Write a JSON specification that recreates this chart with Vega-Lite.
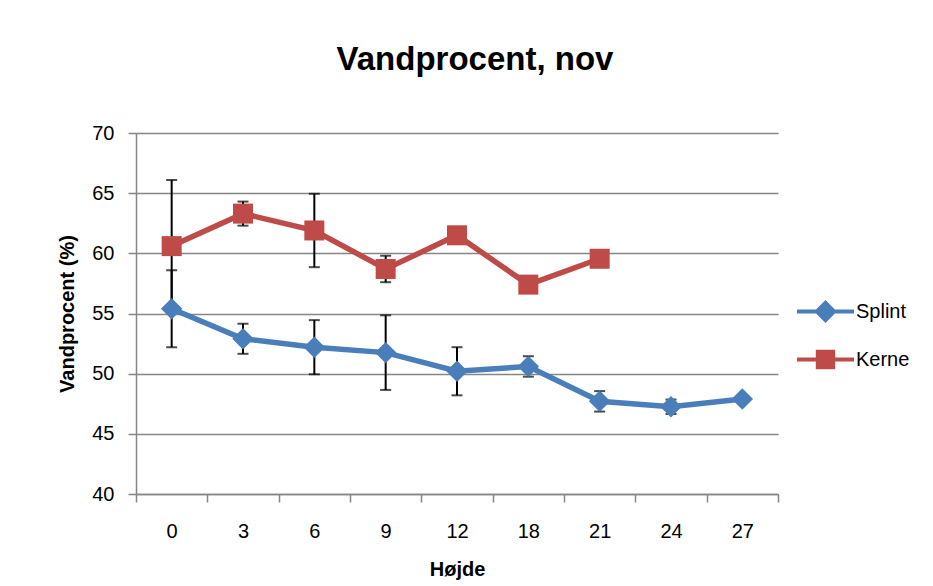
{
  "$schema": "https://vega.github.io/schema/vega-lite/v6.json",
  "autosize": {"type": "none"},
  "width": 642,
  "height": 361,
  "padding": {"left": 136, "top": 133, "right": 155, "bottom": 92},
  "background": "white",
  "config": {
    "font": "Liberation Sans",
    "view": {"stroke": null}
  },
  "title": {
    "text": "Vandprocent, nov",
    "font": "Liberation Sans",
    "fontSize": 33,
    "fontWeight": "bold",
    "color": "black",
    "anchor": "middle",
    "dx": 18,
    "offset": 46
  },
  "data": {
    "values": [
      {"h": "0", "serie": "Splint", "v": 55.4, "lo": 52.2, "hi": 58.6},
      {"h": "3", "serie": "Splint", "v": 52.9, "lo": 51.65, "hi": 54.15},
      {"h": "6", "serie": "Splint", "v": 52.2, "lo": 49.95, "hi": 54.45},
      {"h": "9", "serie": "Splint", "v": 51.75, "lo": 48.65, "hi": 54.85},
      {"h": "12", "serie": "Splint", "v": 50.2, "lo": 48.2, "hi": 52.2},
      {"h": "18", "serie": "Splint", "v": 50.6, "lo": 49.75, "hi": 51.45},
      {"h": "21", "serie": "Splint", "v": 47.7, "lo": 46.85, "hi": 48.55},
      {"h": "24", "serie": "Splint", "v": 47.25, "lo": 46.65, "hi": 47.85},
      {"h": "27", "serie": "Splint", "v": 47.9, "lo": null, "hi": null},
      {"h": "0", "serie": "Kerne", "v": 60.6, "lo": 55.1, "hi": 66.1},
      {"h": "3", "serie": "Kerne", "v": 63.3, "lo": 62.3, "hi": 64.3},
      {"h": "6", "serie": "Kerne", "v": 61.9, "lo": 58.85, "hi": 64.95},
      {"h": "9", "serie": "Kerne", "v": 58.7, "lo": 57.6, "hi": 59.8},
      {"h": "12", "serie": "Kerne", "v": 61.5, "lo": null, "hi": null},
      {"h": "18", "serie": "Kerne", "v": 57.4, "lo": null, "hi": null},
      {"h": "21", "serie": "Kerne", "v": 59.55, "lo": null, "hi": null}
    ]
  },
  "encoding": {
    "x": {
      "field": "h",
      "type": "ordinal",
      "sort": ["0", "3", "6", "9", "12", "18", "21", "24", "27"],
      "scale": {"type": "band", "paddingInner": 0, "paddingOuter": 0},
      "axis": {
        "title": "Højde",
        "titleFontSize": 20,
        "titleFontWeight": "bold",
        "titleColor": "black",
        "titlePadding": 18,
        "labelAngle": 0,
        "labelFontSize": 20,
        "labelColor": "black",
        "labelPadding": 19,
        "tickBand": "extent",
        "tickSize": 8,
        "tickWidth": 1.5,
        "tickColor": "#868686",
        "domainColor": "#868686",
        "domainWidth": 1.5,
        "grid": false
      }
    },
    "color": {
      "field": "serie",
      "type": "nominal",
      "scale": {"domain": ["Splint", "Kerne"], "range": ["#4A7EBB", "#BE4B48"]},
      "legend": {
        "title": null,
        "orient": "none",
        "legendX": 659,
        "legendY": 148,
        "symbolSize": 3249,
        "symbolStrokeWidth": 4,
        "labelFontSize": 20,
        "labelColor": "black",
        "labelOffset": 0,
        "rowPadding": -10,
        "encode": {
          "symbols": {
            "update": {
              "shape": {"signal": "datum.value === 'Splint' ? 'M-1,0H1M-0.3,0L0,-0.3L0.3,0L0,0.3Z' : 'M-1,0H1M-0.27,-0.27H0.27V0.27H-0.27Z'"},
              "stroke": {"signal": "datum.value === 'Splint' ? '#4A7EBB' : '#BE4B48'"},
              "fill": {"signal": "datum.value === 'Splint' ? '#4A7EBB' : '#BE4B48'"},
              "strokeWidth": {"value": 4},
              "opacity": {"value": 1}
            }
          }
        }
      }
    }
  },
  "layer": [
    {
      "transform": [{"filter": "datum.lo != null"}],
      "mark": {"type": "rule", "strokeWidth": 2},
      "encoding": {
        "y": {
          "field": "lo",
          "type": "quantitative",
          "scale": {"domain": [40, 70], "zero": false},
          "axis": {
            "title": "Vandprocent (%)",
            "titleFontSize": 20,
            "titleFontWeight": "bold",
            "titleColor": "black",
            "titlePadding": 14,
            "values": [40, 45, 50, 55, 60, 65, 70],
            "labelFontSize": 20,
            "labelColor": "black",
            "labelPadding": 14,
            "tickSize": 8,
            "tickWidth": 1.5,
            "tickColor": "#868686",
            "domainColor": "#868686",
            "domainWidth": 1.5,
            "grid": true,
            "gridColor": "#868686",
            "gridWidth": 1.5
          }
        },
        "y2": {"field": "hi"},
        "color": {"value": "black"}
      }
    },
    {
      "transform": [{"filter": "datum.lo != null"}],
      "mark": {"type": "tick", "thickness": 2, "size": 11},
      "encoding": {
        "y": {"field": "lo", "type": "quantitative", "scale": {"domain": [40, 70], "zero": false}},
        "color": {"value": "black"}
      }
    },
    {
      "transform": [{"filter": "datum.hi != null"}],
      "mark": {"type": "tick", "thickness": 2, "size": 11},
      "encoding": {
        "y": {"field": "hi", "type": "quantitative", "scale": {"domain": [40, 70], "zero": false}},
        "color": {"value": "black"}
      }
    },
    {
      "mark": {"type": "line", "strokeWidth": 5.5},
      "encoding": {
        "y": {"field": "v", "type": "quantitative", "scale": {"domain": [40, 70], "zero": false}}
      }
    },
    {
      "transform": [{"filter": "datum.serie === 'Splint'"}],
      "mark": {"type": "point", "shape": "diamond", "filled": true, "opacity": 1, "size": 460},
      "encoding": {
        "y": {"field": "v", "type": "quantitative", "scale": {"domain": [40, 70], "zero": false}}
      }
    },
    {
      "transform": [{"filter": "datum.serie === 'Kerne'"}],
      "mark": {"type": "point", "shape": "square", "filled": true, "opacity": 1, "size": 400},
      "encoding": {
        "y": {"field": "v", "type": "quantitative", "scale": {"domain": [40, 70], "zero": false}}
      }
    }
  ]
}
